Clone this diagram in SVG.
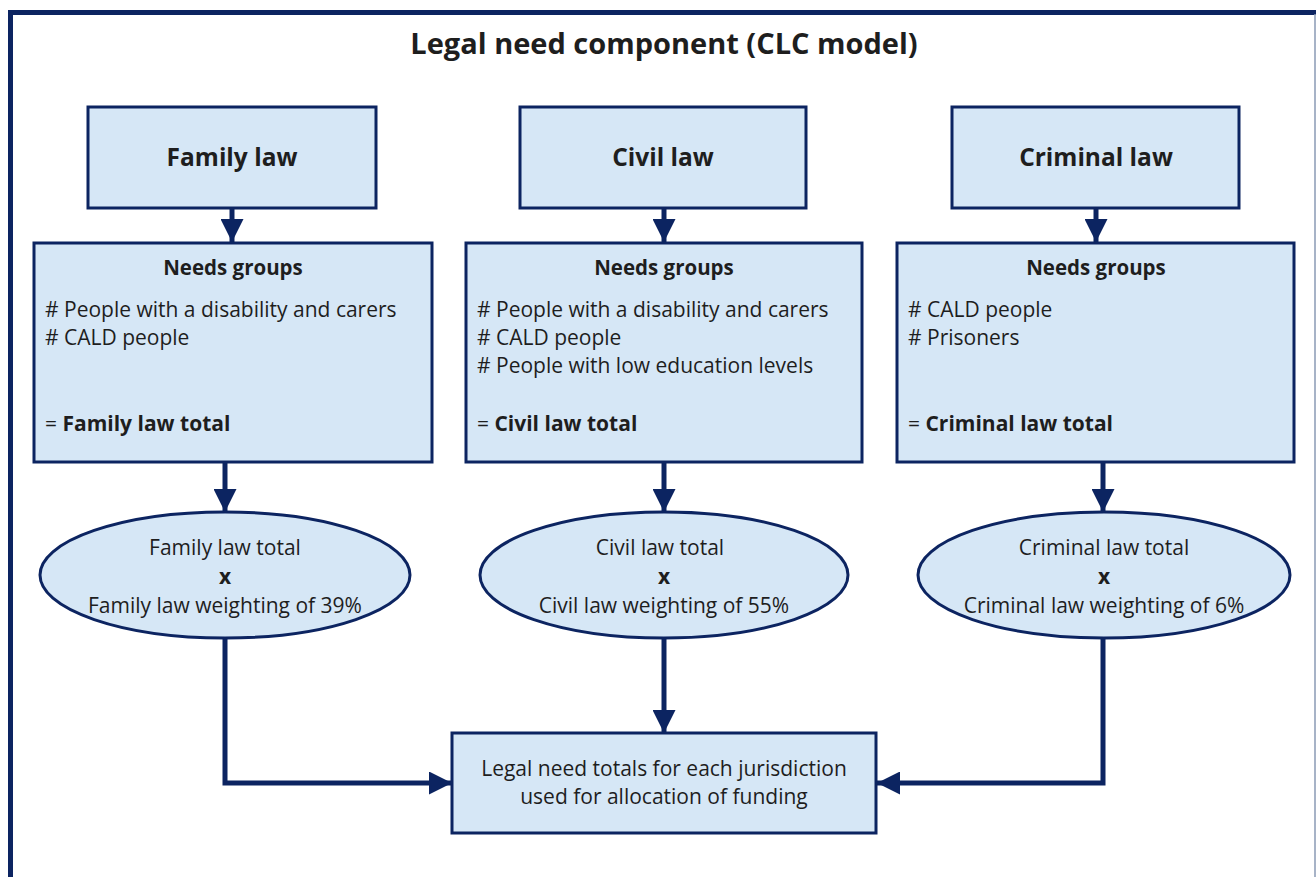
<svg xmlns="http://www.w3.org/2000/svg" width="1316" height="877" viewBox="0 0 1316 877">
<style>
.box{fill:#d6e7f6;stroke:#0c2461;stroke-width:3}
.conn{fill:none;stroke:#0c2461;stroke-width:5}
text{font-family:"Open Sans","Liberation Sans",sans-serif;fill:#1e1e1e}
.title{font-size:29px;font-weight:bold;text-anchor:middle}
.head{font-size:24.5px;font-weight:bold;text-anchor:middle}
.sub{font-size:20.5px;font-weight:bold;text-anchor:middle}
.item{font-size:21px}
.mid{font-size:21px;text-anchor:middle}
</style>
<defs>
<marker id="ah" viewBox="0 0 10 10" refX="10" refY="5" markerWidth="4.6" markerHeight="4.6" markerUnits="strokeWidth" orient="auto">
<path d="M0,0 L10,5 L0,10 Z" fill="#0c2461"/>
</marker>
</defs>
<rect x="0" y="0" width="1316" height="877" fill="#ffffff"/>
<g id="frame">
<path d="M10.5,877 V12.5 H1316" fill="none" stroke="#0c2461" stroke-width="5"/>
<line x1="1315" y1="14" x2="1315" y2="877" stroke="#8a9ab5" stroke-width="1.5"/>
<text class="title" x="664" y="54">Legal need component (CLC model)</text>
</g>
<g id="connectors">
<line class="conn" x1="232" y1="208" x2="232" y2="242" marker-end="url(#ah)"/>
<line class="conn" x1="664" y1="208" x2="664" y2="242" marker-end="url(#ah)"/>
<line class="conn" x1="1096" y1="208" x2="1096" y2="242" marker-end="url(#ah)"/>
<line class="conn" x1="225" y1="462" x2="225" y2="512" marker-end="url(#ah)"/>
<line class="conn" x1="664" y1="462" x2="664" y2="512" marker-end="url(#ah)"/>
<line class="conn" x1="1103" y1="462" x2="1103" y2="512" marker-end="url(#ah)"/>
<line class="conn" x1="664" y1="638" x2="664" y2="733" marker-end="url(#ah)"/>
<path class="conn" d="M225,638 V783 H452" marker-end="url(#ah)"/>
<path class="conn" d="M1103,638 V783 H877" marker-end="url(#ah)"/>
</g>
<g id="family-law">
<rect class="box" x="88" y="107" width="288" height="101"/>
<text class="head" x="232" y="166">Family law</text>
</g>
<g id="civil-law">
<rect class="box" x="520" y="107" width="286" height="101"/>
<text class="head" x="663" y="166">Civil law</text>
</g>
<g id="criminal-law">
<rect class="box" x="952" y="107" width="287" height="101"/>
<text class="head" x="1096" y="166">Criminal law</text>
</g>
<g id="family-needs">
<rect class="box" x="34" y="243" width="398" height="219"/>
<text class="sub" x="233" y="275">Needs groups</text>
<text class="item" x="45" y="317"># People with a disability and carers</text>
<text class="item" x="45" y="345"># CALD people</text>
<text class="item" x="45" y="431">= <tspan font-weight="bold">Family law total</tspan></text>
</g>
<g id="civil-needs">
<rect class="box" x="466" y="243" width="396" height="219"/>
<text class="sub" x="664" y="275">Needs groups</text>
<text class="item" x="477" y="317"># People with a disability and carers</text>
<text class="item" x="477" y="345"># CALD people</text>
<text class="item" x="477" y="373"># People with low education levels</text>
<text class="item" x="477" y="431">= <tspan font-weight="bold">Civil law total</tspan></text>
</g>
<g id="criminal-needs">
<rect class="box" x="897" y="243" width="397" height="219"/>
<text class="sub" x="1096" y="275">Needs groups</text>
<text class="item" x="908" y="317"># CALD people</text>
<text class="item" x="908" y="345"># Prisoners</text>
<text class="item" x="908" y="431">= <tspan font-weight="bold">Criminal law total</tspan></text>
</g>
<g id="family-weight">
<ellipse class="box" cx="225" cy="575" rx="185" ry="63"/>
<text class="mid" x="225" y="555">Family law total</text>
<text class="mid" x="225" y="584" font-weight="bold">x</text>
<text class="mid" x="225" y="613">Family law weighting of 39%</text>
</g>
<g id="civil-weight">
<ellipse class="box" cx="664" cy="575" rx="184" ry="63"/>
<text class="mid" x="660" y="555">Civil law total</text>
<text class="mid" x="664" y="584" font-weight="bold">x</text>
<text class="mid" x="664" y="613">Civil law weighting of 55%</text>
</g>
<g id="criminal-weight">
<ellipse class="box" cx="1104" cy="575" rx="186" ry="63"/>
<text class="mid" x="1104" y="555">Criminal law total</text>
<text class="mid" x="1104" y="584" font-weight="bold">x</text>
<text class="mid" x="1104" y="613">Criminal law weighting of 6%</text>
</g>
<g id="legal-need-totals">
<rect class="box" x="452" y="733" width="424" height="100"/>
<text class="mid" x="664" y="776">Legal need totals for each jurisdiction</text>
<text class="mid" x="664" y="804">used for allocation of funding</text>
</g>
</svg>
